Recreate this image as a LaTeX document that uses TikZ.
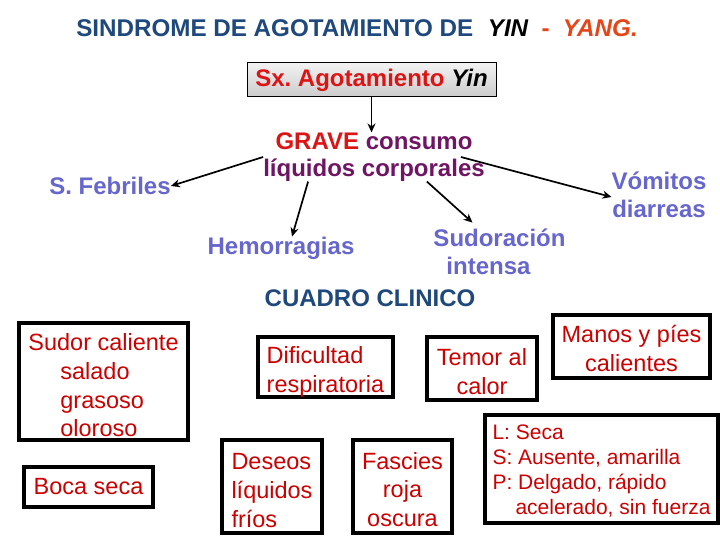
\documentclass[tikz,border=0pt]{standalone}
\usepackage{fontspec}
\setmainfont{Liberation Sans}
\usetikzlibrary{arrows.meta}
\definecolor{titleblue}{RGB}{31,73,125}
\definecolor{yangred}{RGB}{228,70,25}
\definecolor{sxred}{RGB}{220,20,20}
\definecolor{purpletxt}{RGB}{112,20,100}
\definecolor{violetblue}{RGB}{102,102,204}
\definecolor{boxred}{RGB}{204,0,0}
\newcommand\fsz[2]{\fontsize{#1}{#2}\selectfont}
\frenchspacing
\begin{document}
\begin{tikzpicture}[x=1pt,y=-1pt,
  bluetxt/.style={text=violetblue, font=\bfseries\fsz{24}{28.5}, align=center, inner sep=0pt},
  frame/.style={draw=black, line width=3.2pt, inner sep=0pt},
  boxtext/.style={inner sep=0pt, text=boxred, font=\fsz{23.5}{28.7}},
  arr/.style={-{Stealth[length=9pt,width=8pt]}, line width=1.7pt}]
\useasboundingbox[fill=white] (0,0) rectangle (720,540);

\node[inner sep=0pt, text=titleblue, font=\bfseries\fsz{24.2}{28}] (title) at (357,28)
  {SINDROME DE AGOTAMIENTO DE\hspace{0.6em}\textcolor{black}{\itshape YIN}\hspace{0.55em}\textcolor{yangred}{-\hspace{0.55em}\itshape YANG.}};

\node[draw=black, line width=1pt, top color=gray!10, bottom color=gray!40, minimum width=249, minimum height=34, inner sep=0pt, font=\bfseries\fsz{24}{28}] (top) at (371.5,80)
  {\textcolor{sxred}{Sx. Agotamiento} \textcolor{black}{\itshape Yin}};

\node[inner sep=0pt, text=purpletxt, font=\bfseries\fsz{24}{27}, align=center] (grave) at (374,157)
  {\textcolor{sxred}{GRAVE} consumo\\líquidos corporales};

\node[bluetxt] (febriles) at (110,186) {S. Febriles};
\node[bluetxt] (hemo) at (281,248) {Hemorragias};
\node[bluetxt, align=left] (sudo) at (499.5,252) {Sudoración\\\hspace*{13pt}intensa};
\node[bluetxt] (vomitos) at (659,195) {Vómitos\\diarreas};
\node[inner sep=0pt, text=titleblue, font=\bfseries\fsz{24}{28}] (cuadro) at (370,298) {CUADRO CLINICO};

\draw[arr] (top.south) -- (top.south |- grave.north);
\draw[arr] (grave.west) -- (febriles.east);
\draw[arr] ([xshift=45pt]grave.south west) -- ([xshift=11pt]hemo.north);
\draw[arr] ([xshift=-58pt]grave.south east) -- ([xshift=-27pt,yshift=6pt]sudo.north);
\draw[arr] ([xshift=-24pt]grave.east) -- ([yshift=-2pt]vomitos.west);

\node[frame, minimum width=169, minimum height=117] (sudor) at (103.5,381.5) {};
\node[boxtext, align=left] (sudortxt) at ([yshift=-4pt]sudor.center)
  {Sudor caliente\\\hspace*{32pt}salado\\\hspace*{32pt}grasoso\\\hspace*{32pt}oloroso};
\node[frame, minimum width=129, minimum height=40] (boca) at (88.5,487) {};
\node[boxtext] (bocatxt) at (boca.center) {Boca seca};
\node[frame, minimum width=135, minimum height=60] (dif) at (325.5,367) {};
\node[boxtext, align=left] (diftxt) at ([yshift=-5pt]dif.center) {Dificultad\\respiratoria};
\node[frame, minimum width=110, minimum height=63] (temor) at (482,368.5) {};
\node[boxtext, align=center] (temortxt) at ([yshift=-3pt]temor.center) {Temor al\\calor};
\node[frame, minimum width=157, minimum height=63] (manos) at (631.5,346.5) {};
\node[boxtext, align=center] (manostxt) at ([yshift=-2pt]manos.center) {Manos y píes\\calientes};
\node[frame, minimum width=233, minimum height=108] (pulso) at (601.5,469) {};
\node[boxtext, align=left, font=\fsz{21}{25}] (pulsotxt) at ([yshift=-2pt]pulso.center)
  {L: Seca\\S: Ausente, amarilla\\P: Delgado, rápido\\\hspace*{23pt}acelerado, sin fuerza};
\node[frame, minimum width=100, minimum height=93] (deseos) at (272,486.5) {};
\node[boxtext, align=left] (deseostxt) at ([yshift=-4pt]deseos.center) {Deseos\\líquidos\\fríos};
\node[frame, minimum width=99, minimum height=93] (fascies) at (402.5,486.5) {};
\node[boxtext, align=center] (fasciestxt) at ([yshift=-3pt]fascies.center) {Fascies\\roja\\oscura};
\end{tikzpicture}
\end{document}
